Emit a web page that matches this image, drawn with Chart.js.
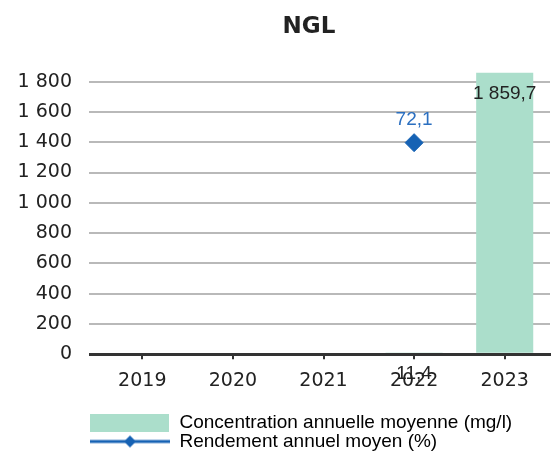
<!DOCTYPE html>
<html>
<head>
<meta charset="utf-8">
<script src="https://cdn.jsdelivr.net/npm/chart.js@4.4.0/dist/chart.umd.min.js"></script>
<style>
  html, body { margin: 0; padding: 0; background: #fff; }
  #wrap { width: 560px; height: 461px; }
</style>
</head>
<body>
<div id="wrap"><canvas id="ngl" width="560" height="461"></canvas></div>
<script>
var years = ['2019', '2020', '2021', '2022', '2023'];
var concentration = [null, null, null, 11.4, 1859.7];
var rendement = [null, null, null, 72.1, null];
var yTicks = [0, 200, 400, 600, 800, 1000, 1200, 1400, 1600, 1800];

var GREEN = '#abdecb';
var BLUE = '#1662b4';
var TEXT = '#222';
var tickFont = { family: '"DejaVu Sans", Verdana, sans-serif', size: 19 };
var labelFont = '19px "Liberation Sans", Arial, sans-serif';

// "1859.7" -> "1 859,7"
function fmt(v, dec) {
    var parts = v.toFixed(dec).split('.');
    var whole = parts[0].replace(/\B(?=(\d{3})+(?!\d))/g, ' ');
    return parts.length > 1 ? whole + ',' + parts[1] : whole;
}

function swatch(draw) {
    var c = document.createElement('canvas');
    c.width = 80;
    c.height = 18;
    draw(c.getContext('2d'));
    return c;
}

var barSwatch = swatch(function(g) {
    g.fillStyle = GREEN;
    g.fillRect(0, 0, 79, 18);
});

var lineSwatch = swatch(function(g) {
    g.strokeStyle = BLUE;
    g.lineWidth = 3;
    g.beginPath();
    g.moveTo(0, 9);
    g.lineTo(80, 9);
    g.stroke();
    g.fillStyle = BLUE;
    g.beginPath();
    g.moveTo(40, 3);
    g.lineTo(46, 9);
    g.lineTo(40, 15);
    g.lineTo(34, 9);
    g.closePath();
    g.fill();
});

// shift title and legend to where the original puts them
var nudge = {
    id: 'nudge',
    afterLayout: function(chart) {
        chart.titleBlock.left += 29;
        chart.titleBlock.right += 29;
        chart.legend.left += 90;
    }
};

var valueLabels = {
    id: 'valueLabels',
    afterDatasetsDraw: function(chart) {
        var ctx = chart.ctx;
        ctx.save();
        ctx.font = labelFont;
        ctx.textAlign = 'center';
        ctx.textBaseline = 'middle';
        chart.getDatasetMeta(0).data.forEach(function(bar, i) {
            if (concentration[i] == null) return;
            ctx.fillStyle = TEXT;
            ctx.fillText(fmt(concentration[i], 1), bar.x, bar.y + 21);
        });
        chart.getDatasetMeta(1).data.forEach(function(pt, i) {
            if (rendement[i] == null) return;
            ctx.fillStyle = '#2b6fc0';
            ctx.fillText(fmt(rendement[i], 1), pt.x, pt.y - 23);
        });
        ctx.restore();
    }
};

window.onload = function() {
    var ctx = document.getElementById('ngl').getContext('2d');
    var chart = new Chart(ctx, {
        type: 'bar',
        data: {
            labels: years,
            datasets: [{
                type: 'bar',
                label: 'Concentration annuelle moyenne (mg/l)',
                data: concentration,
                backgroundColor: GREEN,
                barPercentage: 0.63,
                categoryPercentage: 1,
                yAxisID: 'y'
            }, {
                type: 'line',
                label: 'Rendement annuel moyen (%)',
                data: rendement,
                borderColor: BLUE,
                backgroundColor: BLUE,
                borderWidth: 3,
                pointStyle: 'rectRot',
                pointRadius: 9,
                pointBorderWidth: 1,
                yAxisID: 'y1'
            }]
        },
        options: {
            responsive: false,
            animation: false,
            layout: { padding: { top: 0, right: 0, bottom: 0, left: 0 } },
            scales: {
                x: {
                    grid: {
                        display: true,
                        drawOnChartArea: false,
                        drawTicks: true,
                        tickLength: 5,
                        offset: false,
                        color: '#333',
                        lineWidth: 2
                    },
                    border: { display: true, color: '#333', width: 3 },
                    ticks: { font: tickFont, color: TEXT, padding: 10 },
                    afterFit: function(scale) { scale.height += 11; }
                },
                y: {
                    min: 0,
                    max: 1880,
                    afterBuildTicks: function(scale) {
                        scale.ticks = yTicks.map(function(v) { return { value: v }; });
                    },
                    afterFit: function(scale) { scale.width = 97; },
                    ticks: {
                        font: tickFont,
                        color: TEXT,
                        padding: 17,
                        callback: function(v) { return fmt(v, 0); }
                    },
                    grid: {
                        color: function(c) { return c.tick && c.tick.value === 0 ? '#333' : '#b9b9b9'; },
                        lineWidth: function(c) { return c.tick && c.tick.value === 0 ? 3 : 2; },
                        tickLength: 8
                    },
                    border: { display: false }
                },
                y1: {
                    display: false,
                    min: 0,
                    max: 97
                }
            },
            plugins: {
                title: {
                    display: true,
                    text: 'NGL',
                    color: TEXT,
                    font: { family: '"DejaVu Sans", Verdana, sans-serif', size: 23, weight: 'bold' },
                    padding: { top: 13, bottom: 29 }
                },
                legend: {
                    position: 'bottom',
                    align: 'start',
                    labels: {
                        usePointStyle: true,
                        pointStyleWidth: 80,
                        boxHeight: 18,
                        padding: 0,
                        color: TEXT,
                        font: { family: '"Liberation Sans", Arial, sans-serif', size: 19 },
                        generateLabels: function() {
                            return [
                                { text: 'Concentration annuelle moyenne (mg/l)', pointStyle: barSwatch, datasetIndex: 0, lineWidth: 0, hidden: false },
                                { text: 'Rendement annuel moyen (%)', pointStyle: lineSwatch, datasetIndex: 1, lineWidth: 0, hidden: false }
                            ];
                        }
                    }
                },
                tooltip: { enabled: false }
            }
        },
        plugins: [nudge, valueLabels]
    });
};
</script>
</body>
</html>
